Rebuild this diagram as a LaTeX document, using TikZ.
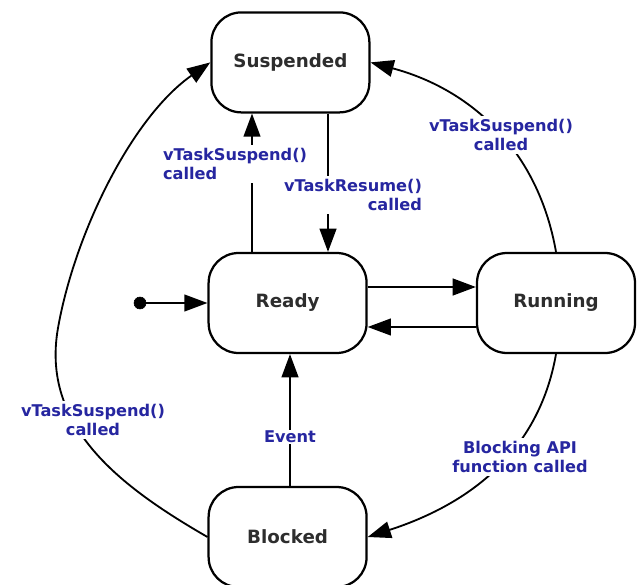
\documentclass[tikz,border=0pt]{standalone}
\usepackage{fontspec}
\setmainfont{DejaVu Sans}
\usetikzlibrary{arrows.meta}
\usetikzlibrary{calc}
\definecolor{lblblue}{RGB}{38,38,160}
\definecolor{stategray}{RGB}{45,45,45}

\begin{document}
\begin{tikzpicture}[
  > = {Triangle[length=5.8mm,width=4.2mm]},
  state/.style = {draw,line width=1.6pt,rounded corners=0.75cm,minimum width=3.95cm,minimum height=2.5cm,
    font=\fontsize{13}{15}\selectfont\bfseries,text=stategray},
  lbl/.style = {fill=white,text=lblblue,font=\fontsize{11.5}{14}\selectfont\bfseries,inner sep=2pt},
  trans/.style = {->,line width=1.3pt},
  dot/.style = {draw,fill,circle,inner sep=0pt,minimum size=3mm}
  ]
	\useasboundingbox (0,0) rectangle (16,14.6);

	\coordinate (@s) at (7.26,13.04);
	\coordinate (@r) at (7.19,7.025);
	\coordinate (@n) at (13.9,7.025);
	\coordinate (@b) at (7.19,1.175);
	\coordinate (leftbend) at (1.45,6.4);

	\node[state] (suspended) at (@s) {Suspended};
	\node[state] (ready) at (@r) {Ready};
	\node[state] (running) at (@n) {Running};
	\node[state] (blocked) at (@b) {Blocked};
	\node[dot] (start) at (3.5,7.025) {};

	\draw[trans] (start) -- (ready.west);
	\draw[trans] ([yshift=0.4cm]ready.east) -- ([yshift=0.4cm]running.west);
	\draw[trans] ([yshift=-0.6cm]running.west) -- ([yshift=-0.6cm]ready.east);
	\draw[trans] ([xshift=-0.89cm]ready.north) -- ([xshift=-0.89cm]ready.north |- suspended.south);
	\draw[trans] ([xshift=1.01cm]ready.north |- suspended.south) -- ([xshift=1.01cm]ready.north);
	\draw[trans] ([xshift=0.06cm]blocked.north) -- ([xshift=0.06cm]blocked.north |- ready.south);
	\draw[trans] (blocked.west) to[out=150,in=-100] (leftbend) to[out=80,in=215,looseness=0.8] (suspended.west);
	\draw[trans] (running.north) to[out=100,in=-15] (suspended.east);
	\draw[trans] (running.south) to[out=-100,in=18] (blocked.east);

	\node[lbl,anchor=west,align=left] (l1) at (4.0,10.5) {vTaskSuspend()\\called};
	\node[lbl,anchor=east,align=right] (l2) at (10.625,9.725) {vTaskResume()\\called};
	\node[lbl,align=center] (l3) at (12.525,11.225) {vTaskSuspend()\\called};
	\node[lbl,align=center] (l4) at (2.325,4.1) {vTaskSuspend()\\called};
	\node[lbl,inner sep=1pt] (l5) at (7.25,3.675) {Event};
	\node[lbl,align=center] (l6) at (13.0,3.175) {Blocking API\\function called};

\end{tikzpicture}
\end{document}
